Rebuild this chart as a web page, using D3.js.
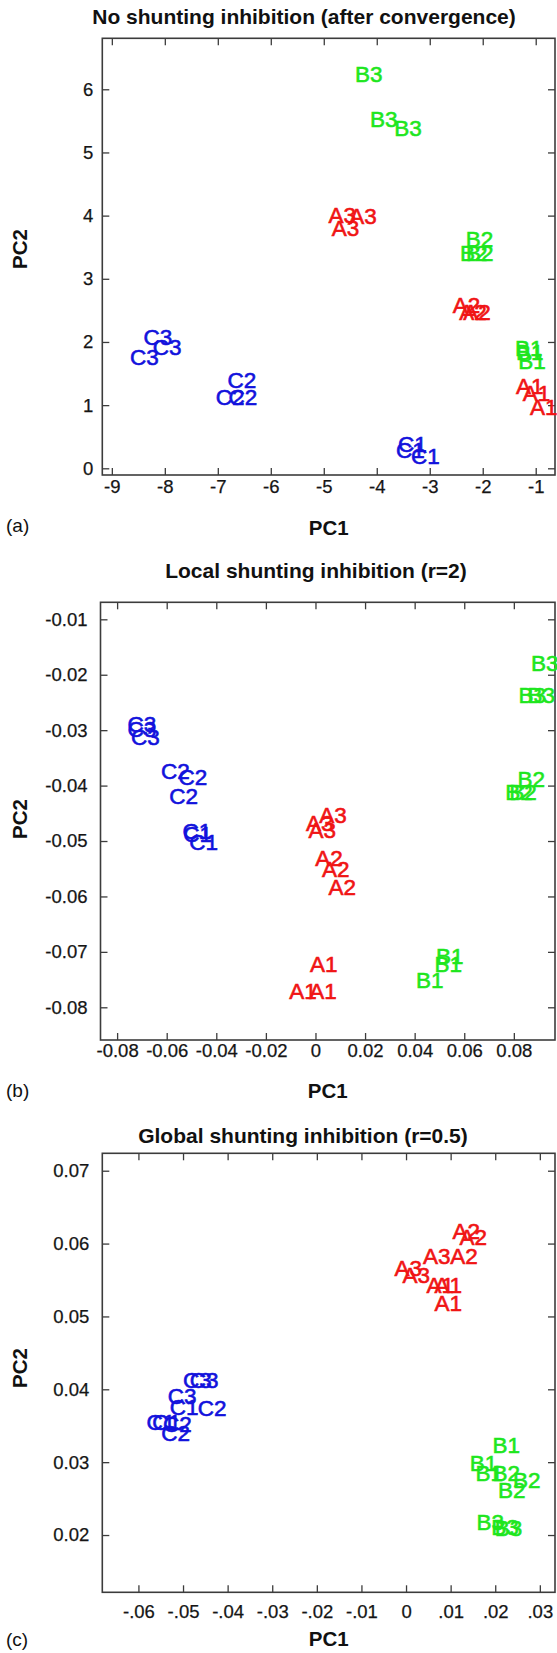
<!DOCTYPE html>
<html><head><meta charset="utf-8">
<script src="https://cdn.jsdelivr.net/npm/d3@7"></script>
<style>
html,body{margin:0;padding:0;background:#fff;}
svg{display:block;}
text{font-family:"Liberation Sans",Arial,Helvetica,sans-serif;}
</style></head><body>
<svg id="chart" width="557" height="1653"></svg>
<script>
// ---------------- DATA ----------------
const groupLabels = ["A1","A1","A1","A2","A2","A2","A3","A3","A3",
                     "B1","B1","B1","B2","B2","B2","B3","B3","B3",
                     "C1","C1","C1","C2","C2","C2","C3","C3","C3"];

// (a) No shunting inhibition (after convergence)
const aPC1 = [-1.372,-1.245,-1.108, -2.566,-2.441,-2.366, -4.913,-4.849,-4.517,
              -1.390,-1.372,-1.328, -2.321,-2.428,-2.315, -4.410,-4.127,-3.668,
              -3.598,-3.636,-3.353, -6.819,-7.038,-6.800, -8.404,-8.226,-8.655];
const aPC2 = [1.300,1.200,0.975, 2.585,2.470,2.470, 4.010,3.800,4.000,
              1.900,1.840,1.700, 3.630,3.410,3.410, 6.240,5.530,5.390,
              0.385,0.290,0.195, 1.398,1.129,1.129, 2.083,1.925,1.767];
const aXTicks = [-9,-8,-7,-6,-5,-4,-3,-2,-1];
const aXTickLabels = ["-9","-8","-7","-6","-5","-4","-3","-2","-1"];
const aYTicks = [0,1,2,3,4,5,6];
const aYTickLabels = ["0","1","2","3","4","5","6"];
const aXLim = [-9.18,-0.636];
const aYLim = [-0.106,6.807];

// (b) Local shunting inhibition (r=2)
const bPC1 = [-0.0022,-0.0106,-0.0025, -0.0001,0.0026,0.0053, 0.0015,-0.0038,-0.0028,
              0.0486,0.0480,0.0405, 0.0815,0.0765,0.0781, 0.0869,0.0819,0.0855,
              -0.0536,-0.0533,-0.0509, -0.0623,-0.0552,-0.0590, -0.0758,-0.0758,-0.0744];
const bPC2 = [-0.0722,-0.0770,-0.0770, -0.0531,-0.0551,-0.0583, -0.0453,-0.0468,-0.0480,
              -0.0707,-0.0721,-0.0751, -0.0388,-0.0411,-0.0411, -0.0178,-0.0237,-0.0237,
              -0.0482,-0.0488,-0.0501, -0.0373,-0.0384,-0.0419, -0.0289,-0.0298,-0.0313];
const bXTicks = [-0.08,-0.06,-0.04,-0.02,0,0.02,0.04,0.06,0.08];
const bXTickLabels = ["-0.08","-0.06","-0.04","-0.02","0","0.02","0.04","0.06","0.08"];
const bYTicks = [-0.08,-0.07,-0.06,-0.05,-0.04,-0.03,-0.02,-0.01];
const bYTickLabels = ["-0.08","-0.07","-0.06","-0.05","-0.04","-0.03","-0.02","-0.01"];
const bXLim = [-0.0867,0.0966];
const bYLim = [-0.0859,-0.00693];

// (c) Global shunting inhibition (r=0.5)
const cPC1 = [0.0046,0.0064,0.0064, 0.0104,0.0120,0.0099, 0.0038,-0.0026,-0.0008,
              0.0194,0.0143,0.0156, 0.0194,0.0240,0.0206, 0.0158,0.0191,0.0199,
              -0.0530,-0.0582,-0.0569, -0.0467,-0.0549,-0.0545, -0.0500,-0.0485,-0.0534];
const cPC2 = [0.0543,0.0543,0.0518, 0.0618,0.0609,0.0583, 0.0583,0.0566,0.0557,
              0.0324,0.0299,0.0285, 0.0285,0.0276,0.0262, 0.0218,0.0211,0.0210,
              0.0376,0.0355,0.0355, 0.0374,0.0340,0.0352, 0.0413,0.0413,0.0391];
const cXTicks = [-0.06,-0.05,-0.04,-0.03,-0.02,-0.01,0,0.01,0.02,0.03];
const cXTickLabels = ["-.06","-.05","-.04","-.03","-.02","-.01","0",".01",".02",".03"];
const cYTicks = [0.02,0.03,0.04,0.05,0.06,0.07];
const cYTickLabels = ["0.02","0.03","0.04","0.05","0.06","0.07"];
const cXLim = [-0.0681,0.0334];
const cYLim = [0.01214,0.07239];

const titles = ["No shunting inhibition (after convergence)",
                "Local shunting inhibition (r=2)",
                "Global shunting inhibition (r=0.5)"];
const panelTags = ["(a)","(b)","(c)"];
const groupColors = {A:"#f01414", B:"#1ee61e", C:"#1212dc"};

// ---------------- LAYOUT ----------------
const svg = d3.select("#chart");
const frameColor = "#3c3c3c";

const panels = [
  {pc1:aPC1, pc2:aPC2, xt:aXTicks, xtl:aXTickLabels, yt:aYTicks, ytl:aYTickLabels, xl:aXLim, yl:aYLim,
   left:102.3, right:555, top:38.3, bottom:475, titleX:304, titleY:24, xPad:5, yPad:9,
   pc1Y:535, tagY:532, pc2Y:249},
  {pc1:bPC1, pc2:bPC2, xt:bXTicks, xtl:bXTickLabels, yt:bYTicks, ytl:bYTickLabels, xl:bXLim, yl:bYLim,
   left:100.5, right:555, top:602.3, bottom:1040, titleX:316, titleY:578, xPad:3.5, yPad:13,
   pc1Y:1098, tagY:1097, pc2Y:819},
  {pc1:cPC1, pc2:cPC2, xt:cXTicks, xtl:cXTickLabels, yt:cYTicks, ytl:cYTickLabels, xl:cXLim, yl:cYLim,
   left:102.3, right:555, top:1153.3, bottom:1592.3, titleX:303, titleY:1142.5, xPad:12.5, yPad:13,
   pc1Y:1646, tagY:1646, pc2Y:1368}
];

panels.forEach((p, i) => {
  const x = d3.scaleLinear().domain(p.xl).range([p.left, p.right]);
  const y = d3.scaleLinear().domain(p.yl).range([p.bottom, p.top]);
  const g = svg.append("g");

  const tickFont = 18.5;
  const ax = g.append("g").attr("transform", `translate(0,${p.bottom})`)
    .call(d3.axisBottom(x).tickValues(p.xt).tickFormat((d, k) => p.xtl[k])
      .tickSizeInner(-7).tickSizeOuter(0).tickPadding(p.xPad));
  const ay = g.append("g").attr("transform", `translate(${p.left},0)`)
    .call(d3.axisLeft(y).tickValues(p.yt).tickFormat((d, k) => p.ytl[k])
      .tickSizeInner(-7).tickSizeOuter(0).tickPadding(p.yPad));
  const at = g.append("g").attr("transform", `translate(0,${p.top})`)
    .call(d3.axisTop(x).tickValues(p.xt).tickFormat("").tickSizeInner(-7).tickSizeOuter(0));
  const ar = g.append("g").attr("transform", `translate(${p.right},0)`)
    .call(d3.axisRight(y).tickValues(p.yt).tickFormat("").tickSizeInner(-7).tickSizeOuter(0));

  [ax, ay, at, ar].forEach(a => {
    a.select(".domain").remove();
    a.selectAll(".tick line").attr("stroke", frameColor).attr("stroke-width", 1.3);
    a.selectAll("text").attr("fill", "#151515").style("font-size", tickFont + "px")
      .attr("stroke", "#151515").attr("stroke-width", 0.25)
      .style("font-family", '"Liberation Sans",Arial,sans-serif');
  });

  g.append("rect").attr("x", p.left).attr("y", p.top)
    .attr("width", p.right - p.left).attr("height", p.bottom - p.top)
    .attr("fill", "none").attr("stroke", frameColor).attr("stroke-width", 1.6);

  g.append("text").attr("x", p.titleX).attr("y", p.titleY)
    .attr("text-anchor", "middle").style("font-weight", "bold").style("font-size", "21px")
    .attr("fill", "#111").text(titles[i]);

  g.append("text").attr("x", (p.left + p.right) / 2).attr("y", p.pc1Y)
    .attr("text-anchor", "middle").style("font-weight", "bold").style("font-size", "20.5px")
    .attr("fill", "#111").text("PC1");
  g.append("text").attr("transform", `translate(27,${p.pc2Y}) rotate(-90)`)
    .attr("text-anchor", "middle").style("font-weight", "bold").style("font-size", "20.5px")
    .attr("fill", "#111").text("PC2");
  g.append("text").attr("x", 6).attr("y", p.tagY)
    .style("font-size", "19px").attr("fill", "#111").text(panelTags[i]);

  const pts = groupLabels.map((lab, k) => ({lab, px: p.pc1[k], py: p.pc2[k]}));
  g.append("g").selectAll("text").data(pts).join("text")
    .attr("x", d => x(d.px))
    .attr("y", d => y(d.py))
    .attr("dy", "0.36em")
    .style("font-size", "22.5px")
    .attr("fill", d => groupColors[d.lab[0]])
    .attr("stroke", d => groupColors[d.lab[0]])
    .attr("stroke-width", 0.6)
    .text(d => d.lab);
});
</script>
</body></html>
